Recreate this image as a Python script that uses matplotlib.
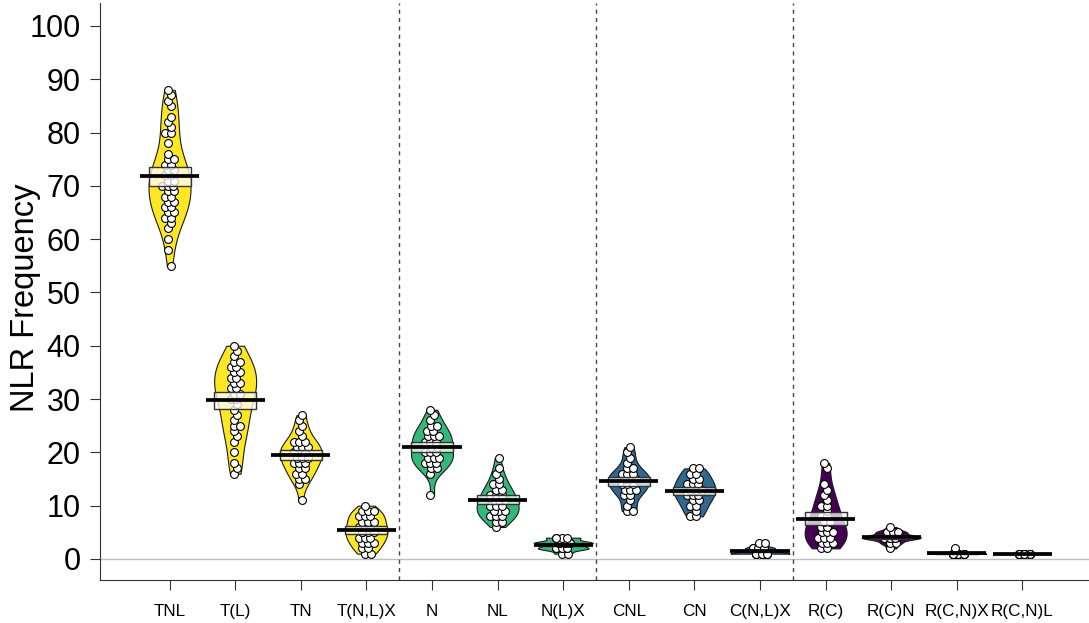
import numpy as np
import matplotlib
matplotlib.use("Agg")
import matplotlib.pyplot as plt

plt.rcParams['font.family'] = ['Liberation Sans', 'DejaVu Sans']

# NLR counts per motif class
categories = ["TNL", "T(L)", "TN", "T(N,L)X", "N", "NL", "N(L)X",
              "CNL", "CN", "C(N,L)X", "R(C)", "R(C)N", "R(C,N)X", "R(C,N)L"]

tnl = [55, 58, 60, 62, 63, 64, 64, 65, 65, 66, 66, 67, 67, 68, 68, 69, 69, 70, 70, 70,
       71, 71, 72, 72, 73, 73, 74, 74, 75, 75, 76, 78, 80, 80, 81, 82, 83, 85, 86, 87, 88]
t_l = [16, 17, 18, 20, 22, 23, 24, 25, 25, 26, 27, 28, 29, 30, 30, 31, 31, 32, 32,
       33, 33, 34, 34, 35, 35, 36, 36, 37, 37, 38, 39, 40]
tn = [11, 14, 15, 15, 16, 16, 17, 17, 18, 18, 18, 19, 19, 19, 20, 20, 20, 20, 21, 21,
      21, 22, 22, 22, 23, 24, 25, 26, 27]
t_nl_x = [1, 1, 2, 2, 3, 3, 3, 4, 4, 4, 5, 5, 5, 5, 6, 6, 6, 7, 7, 7, 8, 8, 8, 9, 9, 9, 10]
n = [12, 16, 17, 17, 18, 18, 18, 19, 19, 19, 20, 20, 20, 21, 21, 22, 22, 22, 23, 23,
     23, 24, 24, 25, 25, 26, 27, 28]
nl = [6, 7, 7, 8, 8, 8, 9, 9, 9, 9, 10, 10, 10, 11, 11, 11, 12, 12, 12, 13, 13, 14,
      14, 15, 16, 17, 19]
n_l_x = [1, 1, 2, 2, 2, 2, 2, 2, 3, 3, 3, 3, 3, 3, 3, 4, 4, 4, 4]
cnl = [9, 9, 10, 11, 12, 12, 13, 13, 13, 14, 14, 14, 15, 15, 15, 15, 16, 16, 16, 17,
       17, 18, 19, 20, 21]
cn = [8, 8, 9, 10, 10, 11, 11, 12, 12, 12, 13, 13, 13, 14, 14, 14, 15, 15, 16, 16, 17, 17]
c_nl_x = [1] * 12 + [2] * 6 + [3] * 2
r_c = [2, 2, 3, 3, 3, 4, 4, 4, 5, 5, 5, 6, 6, 7, 7, 8, 8, 9, 10, 10, 11, 12, 13, 14,
       17, 18]
r_c_n = [2, 3, 3, 4, 4, 4, 4, 4, 4, 5, 5, 5, 6]
r_cn_x = [1] * 19 + [2]
r_cn_l = [1] * 20

groups = [tnl, t_l, tn, t_nl_x, n, nl, n_l_x, cnl, cn, c_nl_x, r_c, r_c_n, r_cn_x, r_cn_l]

# one colour per NLR class block (viridis, 4 levels)
class_colors = ["#FDE725", "#35B779", "#31688E", "#440154"]
class_of = [0, 0, 0, 0, 1, 1, 1, 2, 2, 2, 3, 3, 3, 3]
separators = [4.5, 7.5, 10.5]


def bw_nrd0(x):
    x = np.asarray(x, float)
    hi = np.std(x, ddof=1)
    q75, q25 = np.percentile(x, [75, 25])
    lo = min(hi, (q75 - q25) / 1.34)
    if not lo:
        lo = hi or abs(x[0]) or 1.0
    return 0.9 * lo * len(x) ** -0.2


def kde(x, grid, bw):
    x = np.asarray(x, float)[:, None]
    z = (grid[None, :] - x) / bw
    return np.exp(-0.5 * z ** 2).sum(0) / (len(x) * bw * np.sqrt(2 * np.pi))


fig = plt.figure(figsize=(10.89, 6.23), dpi=100)
ax = fig.add_axes([100 / 1089, 43 / 623, 992 / 1089, 577 / 623])

ax.axhline(0, color="#bdbdbd", lw=1.0, zorder=0)
for s in separators:
    ax.axvline(s, color="#444444", lw=1.0, ls=(0, (3, 3)), zorder=0)

for i, vals in enumerate(groups):
    pos = i + 1
    vals = np.asarray(vals, float)
    col = class_colors[class_of[i]]

    # bean
    if vals.max() > vals.min():
        bw = bw_nrd0(vals)
        grid = np.linspace(vals.min(), vals.max(), 300)
        dens = kde(vals, grid, bw)
        hw = np.clip(0.45 * dens.max() / 0.4, 0.32, 0.45)
        half = dens / dens.max() * hw
        ax.fill_betweenx(grid, pos - half, pos + half, facecolor=col,
                         edgecolor="#1a1a1a", lw=0.8, zorder=1)

    # points: duplicates set side by side
    xs, ys = [], []
    uniq, counts = np.unique(vals, return_counts=True)
    for v, k in zip(uniq, counts):
        base = 0.025 if int(v) % 2 else -0.025
        for j in range(k):
            if k == 1:
                off = 0.0
            elif k == 2:
                off = -0.045 + 0.09 * j
            else:
                off = ((j % 3) - 1) * 0.085
            xs.append(pos + base + off)
            ys.append(v)
    ax.scatter(xs, ys, s=32, facecolor="white", edgecolor="black",
               linewidth=0.8, zorder=2)

    # inference band and mean
    m = vals.mean()
    se = vals.std(ddof=1) / np.sqrt(len(vals)) if len(vals) > 1 else 0.0
    h = 1.35 * se
    ax.add_patch(plt.Rectangle((pos - 0.32, m - h), 0.64, 2 * h,
                               facecolor=(1, 1, 1, 0.75), edgecolor="#333333",
                               lw=1.0, zorder=3))
    ax.plot([pos - 0.45, pos + 0.45], [m, m], color="black", lw=2.7,
            solid_capstyle="butt", zorder=4)

ax.set_xlim(-0.06, 15.06)
ax.set_ylim(-3.94, 104.3)
ax.set_xticks(range(1, len(categories) + 1))
ax.set_xticklabels(categories, fontsize=12.3)
ax.set_yticks(range(0, 101, 10))
ax.tick_params(axis="y", labelsize=22, length=7, width=0.8, pad=7, color="#333333")
ax.tick_params(axis="x", length=7, width=0.8, pad=10, color="#333333")
ax.set_ylabel("NLR Frequency", fontsize=23.5)
ax.yaxis.set_label_coords(-0.059, 0.49)

for side in ["top", "right"]:
    ax.spines[side].set_visible(False)
for side in ["left", "bottom"]:
    ax.spines[side].set_color("#333333")
    ax.spines[side].set_linewidth(0.8)

fig.savefig("out.png", dpi=100)
